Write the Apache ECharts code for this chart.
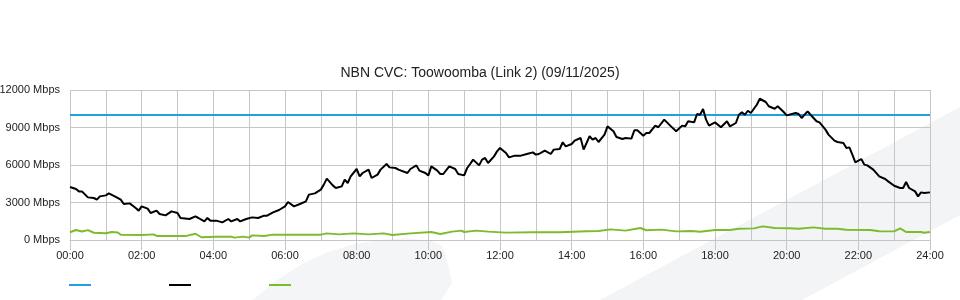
<!DOCTYPE html>
<html>
<head>
<meta charset="utf-8">
<script src="https://cdn.jsdelivr.net/npm/echarts@6/dist/echarts.min.js"></script>
<style>
html,body{margin:0;padding:0;background:#fff;}
#chart{width:960px;height:300px;}
</style>
</head>
<body>
<div id="chart"></div>
<script>
// Title
const chartTitle = 'NBN CVC: Toowoomba (Link 2) (09/11/2025)';
// Y axis ticks
const yTicks = [0, 3000, 6000, 9000, 12000];
// Capacity line (Mbps)
const capacityTimes = [0, 1440];
const capacityMbps = [10000, 10000];
// Download (black) - minutes since midnight / Mbps
const downTimes = [0,10,15,20,30,40,45,50,60,65,75,85,90,100,110,115,120,130,135,145,150,160,170,180,185,200,210,215,225,230,235,240,
245,255,265,270,280,285,295,305,315,325,330,340,350,360,365,375,385,395,400,410,420,425,430,440,445,455,460,465,470,480,
485,490,500,505,515,520,530,535,545,550,565,570,580,585,595,600,605,615,620,625,635,645,650,660,665,670,675,685,690,695,700,710,715,720,
730,735,745,755,765,775,780,785,795,805,810,820,825,830,840,845,855,860,870,875,880,885,895,900,910,915,925,930,940,945,950,960,965,
970,980,985,995,1005,1015,1025,1030,1035,1045,1050,1055,1060,1065,1070,1080,1090,1100,1105,1115,1120,1125,1130,1135,1140,1150,1155,1165,1170,1180,1185,1195,1200,
1215,1220,1225,1235,1240,1250,1255,1265,1270,1280,1285,1295,1300,1305,1310,1315,1325,1330,1335,1345,1355,1365,1370,1380,1390,1395,1400,1405,1415,1420,1425,1430,1440];
const downMbps = [4240,4080,3890,3890,3410,3360,3230,3490,3570,3730,3490,3230,2880,2930,2560,2350,2690,2510,2160,2350,2080,1970,2290,2160,1760,1680,1890,1760,1490,1760,1550,1550,
1550,1410,1680,1490,1680,1490,1680,1810,1760,1950,1950,2210,2400,2690,3040,2690,2880,3090,3630,3730,4030,4430,4910,4370,4160,4290,4830,4560,5090,5680,
5090,5360,5630,4960,5230,5630,6080,5810,5760,5630,5360,5680,5970,5550,5360,5170,5890,5550,5280,5280,5890,5680,5280,5170,5760,6080,6430,5970,6430,6560,6160,6690,7090,7360,
6960,6610,6750,6750,6880,7010,6830,6880,7150,6880,7230,7280,7820,7490,7680,7950,8160,7230,8300,8030,8160,7840,8430,9090,8700,8240,8080,8160,8110,8780,8780,8340,8560,
8560,9150,9020,9630,9150,8700,9150,9090,9500,9410,10080,10020,10480,9630,9150,9410,9020,9500,9090,9360,10020,10220,10020,10340,10160,10820,11300,11040,10700,10500,10700,10240,9970,
10160,10080,9760,10290,10020,9500,9410,8830,8430,7950,7840,7760,7360,7410,6830,6210,6480,6030,5970,5630,5090,4880,4690,4340,4160,4160,4640,4160,3890,3490,3810,3760,3810];
// Upload (green)
const upTimes = [0,10,20,30,40,60,70,80,85,120,140,145,175,195,210,220,245,270,275,290,300,305,325,340,420,430,450,475,500,525,540,570,605,620,640,655,660,680,700,730,775,820,865,885,905,930,955,965,
990,1015,1040,1055,1080,1105,1120,1145,1160,1180,1205,1220,1245,1265,1285,1300,1340,1355,1380,1390,1400,1425,1430,1440];
const upMbps = [620,800,680,790,580,540,640,600,420,400,450,330,330,330,500,220,260,270,190,270,190,370,320,430,430,530,450,530,450,530,400,530,640,480,670,750,640,750,670,590,620,620,700,720,850,750,960,780,
830,690,720,660,800,800,900,930,1090,960,940,900,1010,900,900,820,800,700,690,930,640,640,580,640];

function pairs(t, v) { return t.map((x, i) => [x, v[i]]); }
function hhmm(m) { const h = Math.floor(m / 60); return (h < 10 ? '0' : '') + h + ':00'; }

const gridColor = '#c6c6c6';
const font = 'Liberation Sans, Arial, sans-serif';
const legendBase = {top: 284, padding: 0, icon: 'rect', itemWidth: 22, itemHeight: 2, formatter: () => '', selectedMode: false};
const chart = echarts.init(document.getElementById('chart'), null, {renderer: 'canvas'});
chart.setOption({
  animation: false,
  backgroundColor: '#ffffff',
  title: {
    text: chartTitle, left: 'center', top: 61,
    textStyle: {fontFamily: font, fontSize: 14, fontWeight: 'normal', color: '#222'}
  },
  graphic: [
    {type: 'polygon', z: -10, silent: true,
     shape: {points: [[600,300],[960,107],[960,215],[802,300]]}, style: {fill: '#f3f4f6'}},
    {type: 'polygon', z: -10, silent: true,
     shape: {points: [[253,300],[277,280],[302,264],[328,252],[355,244],[380,240],[405,238],[432,241],[442,246],[446,256],[452,283],[441,300]]},
     style: {fill: '#f4f5f7'}}
  ],
  legend: [
    Object.assign({left: 69, data: ['Capacity']}, legendBase),
    Object.assign({left: 169, data: ['Download']}, legendBase),
    Object.assign({left: 269, data: ['Upload']}, legendBase)
  ],
  grid: {left: 70, right: 30, top: 90, bottom: 60, containLabel: false, outerBoundsMode: 'none'},
  xAxis: {
    type: 'value', min: 0, max: 1440, interval: 120,
    axisLine: {show: true, lineStyle: {color: gridColor}},
    axisTick: {show: true, length: 10, lineStyle: {color: gridColor}},
    axisLabel: {formatter: hhmm, margin: 10, fontFamily: font, fontSize: 11, color: '#222'},
    splitLine: {show: true, lineStyle: {color: gridColor, width: 1}},
    minorTick: {show: false, splitNumber: 2},
    minorSplitLine: {show: true, lineStyle: {color: gridColor, width: 1}}
  },
  yAxis: {
    type: 'value', min: yTicks[0], max: yTicks[yTicks.length - 1], interval: yTicks[1] - yTicks[0],
    axisLine: {show: false}, axisTick: {show: false},
    axisLabel: {formatter: (v) => v + ' Mbps', margin: 10, fontFamily: font, fontSize: 11, color: '#222'},
    splitLine: {show: true, lineStyle: {color: gridColor, width: 1}}
  },
  series: [
    {name: 'Capacity', type: 'line', data: pairs(capacityTimes, capacityMbps), showSymbol: false,
     lineStyle: {color: '#1ea1dc', width: 2}, itemStyle: {color: '#1ea1dc'}, z: 3},
    {name: 'Download', type: 'line', data: pairs(downTimes, downMbps), showSymbol: false,
     lineStyle: {color: '#000000', width: 2}, itemStyle: {color: '#000000'}, z: 4},
    {name: 'Upload', type: 'line', data: pairs(upTimes, upMbps), showSymbol: false,
     lineStyle: {color: '#7cbb2c', width: 2}, itemStyle: {color: '#7cbb2c'}, z: 4}
  ]
});
</script>
</body>
</html>
